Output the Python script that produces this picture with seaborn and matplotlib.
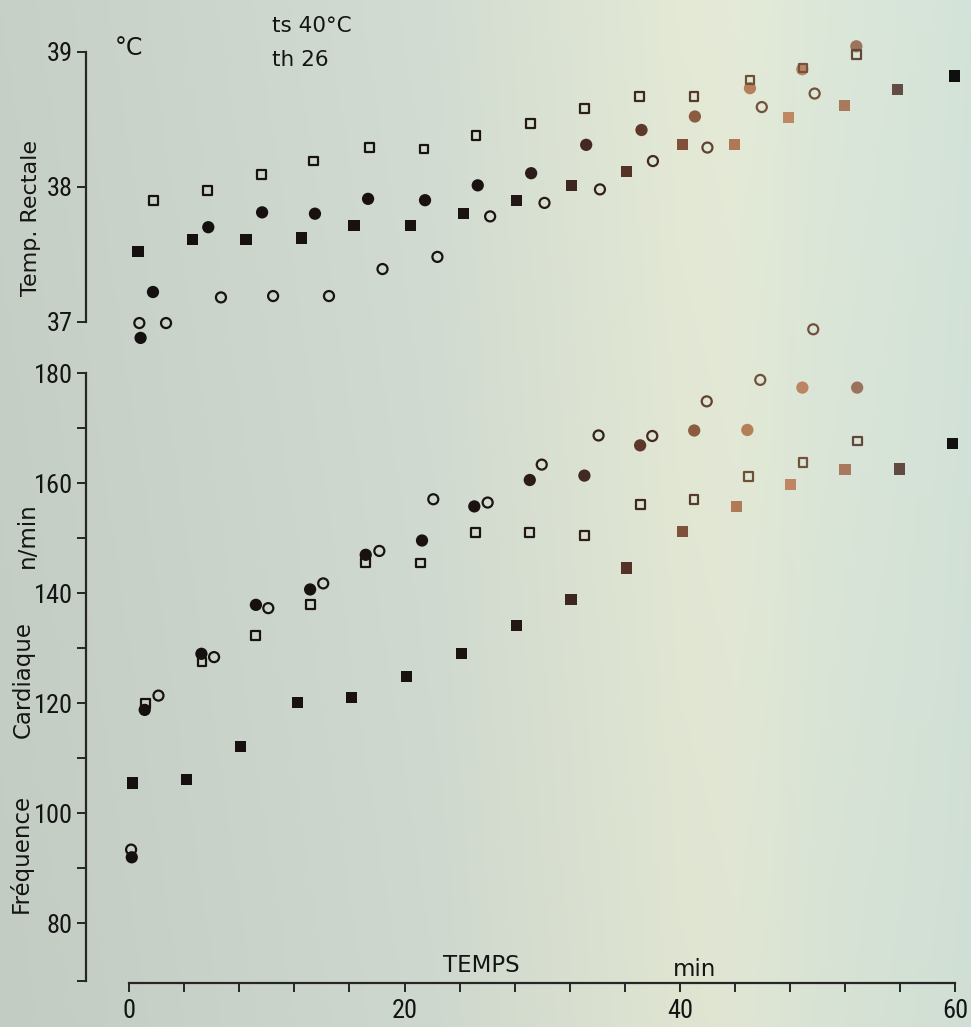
import numpy as np
import pandas as pd
import matplotlib
matplotlib.use("Agg")
import matplotlib.pyplot as plt
import matplotlib.colors as mcolors
from matplotlib import font_manager
import seaborn as sns

# ---------------- data ----------------
# Upper panel: rectal temperature (deg C)
t_temp_sq_fill = [0.63, 4.59, 8.48, 12.52, 16.33, 20.41, 24.27, 28.13, 32.12, 36.12, 40.19, 43.98, 47.91, 51.98, 55.84, 59.95]
temp_sq_fill = [37.52, 37.61, 37.61, 37.62, 37.71, 37.71, 37.80, 37.90, 38.01, 38.11, 38.31, 38.31, 38.51, 38.60, 38.72, 38.82]

t_temp_circ_fill = [0.82, 1.72, 5.74, 9.65, 13.49, 17.35, 21.49, 25.32, 29.2, 33.2, 37.22, 41.1, 45.1, 48.9, 52.83]
temp_circ_fill = [36.88, 37.22, 37.70, 37.81, 37.80, 37.91, 37.90, 38.01, 38.10, 38.31, 38.42, 38.52, 38.73, 38.87, 39.04]

t_temp_sq_open = [1.75, 5.71, 9.6, 13.39, 17.43, 21.41, 25.2, 29.16, 33.09, 37.08, 41.03, 45.1, 48.96, 52.85]
temp_sq_open = [37.90, 37.97, 38.09, 38.19, 38.29, 38.28, 38.38, 38.47, 38.58, 38.67, 38.67, 38.79, 38.88, 38.98]

t_temp_circ_open = [0.73, 2.67, 6.66, 10.45, 14.51, 18.4, 22.39, 26.22, 30.17, 34.2, 38.05, 42.01, 45.96, 49.8]
temp_circ_open = [36.99, 36.99, 37.18, 37.19, 37.19, 37.39, 37.48, 37.78, 37.88, 37.98, 38.19, 38.29, 38.59, 38.69]

# Lower panel: heart rate (beats / min)
t_hr_sq_fill = [0.25, 4.17, 8.08, 12.22, 16.13, 20.12, 24.14, 28.12, 32.1, 36.12, 40.19, 44.1, 48.03, 52.0, 55.98, 59.8]
hr_sq_fill = [105.5, 106.1, 112.1, 120.1, 121.1, 124.9, 129.0, 134.1, 138.9, 144.6, 151.3, 155.8, 159.8, 162.5, 162.6, 167.3]

t_hr_circ_fill = [0.18, 1.12, 5.24, 9.2, 13.14, 17.18, 21.27, 25.07, 29.1, 33.07, 37.12, 41.05, 44.91, 48.91, 52.89]
hr_circ_fill = [92.0, 118.8, 129.0, 137.9, 140.7, 147.0, 149.6, 155.8, 160.6, 161.4, 166.9, 169.6, 169.7, 177.4, 177.4]

t_hr_sq_open = [1.17, 5.29, 9.15, 13.14, 17.18, 21.18, 25.13, 29.1, 33.07, 37.12, 41.03, 45.0, 48.96, 52.93]
hr_sq_open = [120.0, 127.5, 132.3, 137.9, 145.6, 145.5, 151.0, 151.0, 150.5, 156.2, 157.1, 161.3, 163.8, 167.7]

t_hr_circ_open = [0.13, 2.12, 6.16, 10.1, 14.09, 18.17, 22.09, 26.04, 29.97, 34.1, 38.0, 41.96, 45.85, 49.7]
hr_circ_open = [93.4, 121.4, 128.4, 137.3, 141.8, 147.7, 157.1, 156.5, 163.4, 168.7, 168.6, 174.9, 178.8, 188.0]

temp_ticks = [37, 38, 39]
hr_ticks = [80, 100, 120, 140, 160, 180]
hr_minor = [69.5, 90, 110, 130, 150, 170]
time_ticks = [0, 20, 40, 60]
time_minor = [4, 8, 12, 16, 24, 28, 32, 36, 44, 48, 52, 56]

# ---------------- styling ----------------
sns.set_theme(style="ticks")
names = {f.name for f in font_manager.fontManager.ttflist}
cond = None
for cand in ["Roboto Condensed", "DejaVu Sans Condensed", "Liberation Sans Narrow"]:
    if cand in names:
        cond = cand
        break
plt.rcParams["font.family"] = ["DejaVu Sans"]
TXT = "#141414"
AX = "#262626"

# scan tint of the marks (printing artefact), as a function of time
tint_t = [0, 27, 31, 35, 39, 43, 47, 51, 54, 57, 60]
tint_hex = ["#141010", "#1a1210", "#3a2520", "#4a2c22", "#6e4232", "#a87450",
            "#c08a62", "#b88060", "#8a6a58", "#4a3a36", "#0e0e0e"]
tint_rgb = np.array([mcolors.to_rgb(c) for c in tint_hex])


def tint(x, filled):
    rgb = np.array([np.interp(x, tint_t, tint_rgb[:, k]) for k in range(3)])
    if not filled:
        rgb = 0.55 * rgb + 0.45 * np.array(mcolors.to_rgb("#1a1410"))
    return mcolors.to_hex(rgb)


W, H = 971, 1027
fig = plt.figure(figsize=(W / 100, H / 100), dpi=100)

# background paper tone
bg = fig.add_axes([0, 0, 1, 1], zorder=-10)
xs = np.linspace(0, 1, 300)
anc_x = [0.0, 0.15, 0.45, 0.70, 0.76, 0.85, 1.0]
anc_c = np.array([mcolors.to_rgb(c) for c in
                  ["#c6cfc5", "#cad3c9", "#d2dbd1", "#e2e8d4", "#e3e9d6", "#dbe6d8", "#d3e2d8"]])
row = np.stack([np.interp(xs, anc_x, anc_c[:, k]) for k in range(3)], axis=1)
ys = np.linspace(0, 1, 120)[:, None, None]
img = row[None, :, :] * (0.985 + 0.02 * ys)
bg.imshow(np.clip(img, 0, 1), aspect="auto", extent=[0, 1, 0, 1], origin="lower")
bg.axis("off")

px_min = (955 - 129.3) / 60.0
x_lo = (86 - 129.3) / px_min
x_hi = (960 - 129.3) / px_min

ax1 = fig.add_axes([86 / W, 1 - 321.7 / H, (960 - 86) / W, 270 / H])
ax2 = fig.add_axes([86 / W, 1 - 983.3 / H, (960 - 86) / W, 610 / H])
for ax in (ax1, ax2):
    ax.patch.set_alpha(0)
    ax.set_xlim(x_lo, x_hi)

ax1.set_ylim(37, 39)
ax2.set_ylim(80 - 60 / 5.5, 180)


def draw(ax, t, v, marker, filled, size, lw=1.6):
    cols = [tint(x, filled) for x in t]
    df = pd.DataFrame({"t": t, "v": v, "c": cols})
    pal = {c: c for c in cols}
    sns.scatterplot(data=df, x="t", y="v", hue="c", palette=pal, marker=marker,
                    s=size, linewidth=0, edgecolor="none", legend=False, ax=ax,
                    clip_on=False, zorder=3)
    coll = ax.collections[-1]
    if not filled:
        fc = coll.get_facecolors()
        coll.set_edgecolors(fc)
        coll.set_facecolors("none")
        coll.set_linewidths(lw)


draw(ax1, t_temp_sq_fill, temp_sq_fill, "s", True, 66)
draw(ax1, t_temp_circ_fill, temp_circ_fill, "o", True, 78)
draw(ax1, t_temp_sq_open, temp_sq_open, "s", False, 40)
draw(ax1, t_temp_circ_open, temp_circ_open, "o", False, 52)

draw(ax2, t_hr_sq_fill, hr_sq_fill, "s", True, 66)
draw(ax2, t_hr_circ_fill, hr_circ_fill, "o", True, 78)
draw(ax2, t_hr_sq_open, hr_sq_open, "s", False, 40)
draw(ax2, t_hr_circ_open, hr_circ_open, "o", False, 52)

tickfont = {"family": [cond, "DejaVu Sans"] if cond else ["DejaVu Sans"]}
TICK_FS = 19 if cond else 16

# upper axis
for s in ["top", "right", "bottom"]:
    ax1.spines[s].set_visible(False)
ax1.spines["left"].set_bounds(37, 39)
ax1.spines["left"].set_linewidth(1.6)
ax1.spines["left"].set_color(AX)
ax1.set_xticks([])
ax1.set_yticks(temp_ticks)
ax1.set_yticklabels([str(v) for v in temp_ticks], fontdict=tickfont)
ax1.tick_params(axis="y", direction="out", length=6.5, width=1.4, pad=3,
                labelsize=TICK_FS, colors=AX, labelcolor=TXT)
ax1.set_xlabel("")
ax1.set_ylabel("")

# lower axis
for s in ["top", "right"]:
    ax2.spines[s].set_visible(False)
ax2.spines["left"].set_bounds(69.5, 180)
ax2.spines["bottom"].set_bounds(0, 60)
for s in ["left", "bottom"]:
    ax2.spines[s].set_linewidth(1.6)
    ax2.spines[s].set_color(AX)
ax2.set_yticks(hr_ticks)
ax2.set_yticklabels([str(v) for v in hr_ticks], fontdict=tickfont)
ax2.set_yticks(hr_minor, minor=True)
ax2.set_xticks(time_ticks)
ax2.set_xticklabels([str(v) for v in time_ticks], fontdict=tickfont)
ax2.set_xticks(time_minor, minor=True)
ax2.tick_params(axis="both", which="both", direction="out", length=6.5, width=1.4,
                colors=AX, labelcolor=TXT)
ax2.tick_params(axis="y", which="major", pad=3, labelsize=TICK_FS)
ax2.tick_params(axis="x", which="major", pad=5, labelsize=TICK_FS)
ax2.set_xlabel("")
ax2.set_ylabel("")


def ftext(x, y, s, **kw):
    fig.text(x / W, 1 - y / H, s, color=TXT, **kw)


ftext(115, 48, "°C", fontsize=17, ha="left", va="center")
ftext(272, 26, "ts 40°C", fontsize=15.5, ha="left", va="center")
ftext(272, 60, "th 26", fontsize=15.5, ha="left", va="center")
ftext(31, 218, "Temp. Rectale", fontsize=16, rotation=90, ha="center", va="center")
ftext(21, 853, "Fréquence", fontsize=16.5, rotation=90, ha="center", va="center")
ftext(23, 680, "Cardiaque", fontsize=16.5, rotation=90, ha="center", va="center")
ftext(27, 535, "n/min", fontsize=16.5, rotation=90, ha="center", va="center")
ftext(443, 966, "TEMPS", fontsize=16.5, ha="left", va="center")
ftext(673, 970, "min", fontsize=16.5, ha="left", va="center")

fig.savefig("out.png", dpi=100)
